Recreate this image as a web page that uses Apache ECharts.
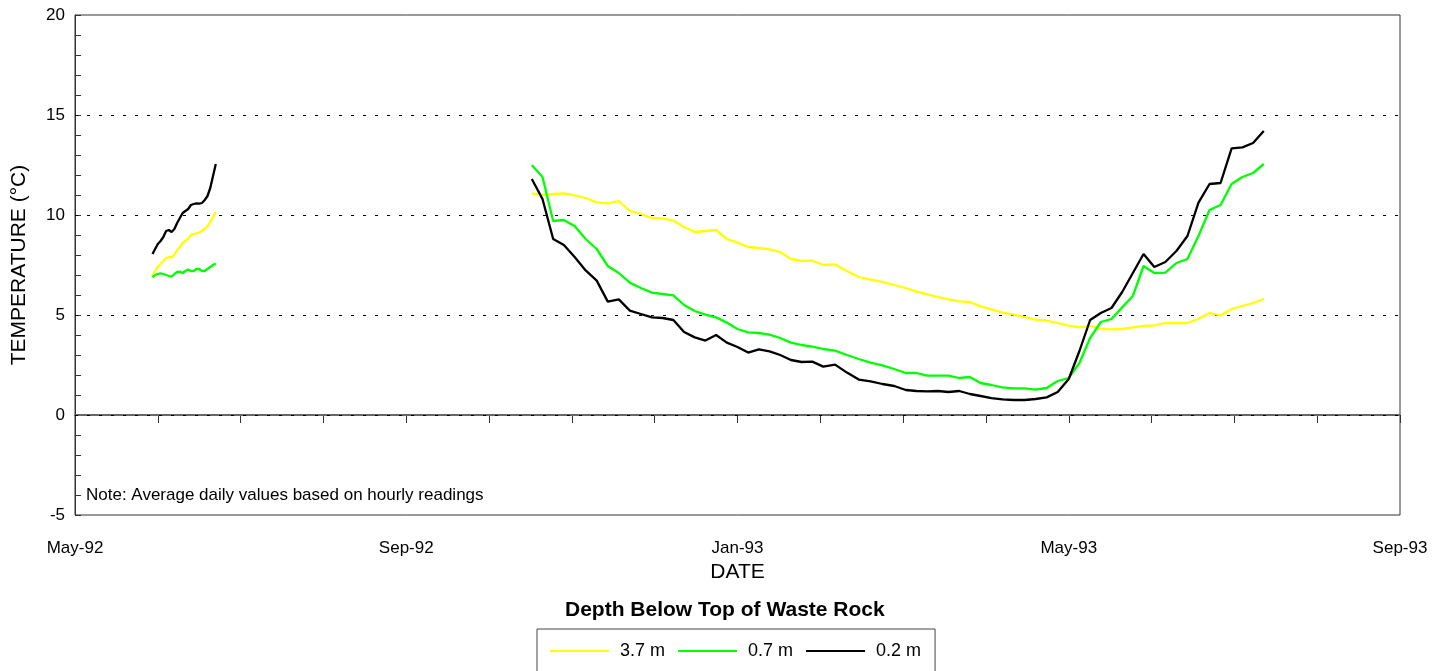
<!DOCTYPE html>
<html>
<head>
<meta charset="utf-8">
<script src="https://cdn.jsdelivr.net/npm/echarts@6/dist/echarts.min.js"></script>
<style>
html,body{margin:0;padding:0;background:#fff;}
#chart{width:1446px;height:671px;}
</style>
</head>
<body>
<div id="chart"></div>
<script>
// ---- data ----
const xTickLabels = ['May-92', 'Sep-92', 'Jan-93', 'May-93', 'Sep-93'];
const seriesNames = ['3.7 m', '0.7 m', '0.2 m'];
const gridLevels = [0, 5, 10, 15];
const zeroLevel = 0;

// Segment 1: daily values starting 1992-05-30
const seg1Start = '1992-05-30';
const seg1StepDays = 1;
const seg1_37 = [6.95, 7.2, 7.4, 7.55, 7.7, 7.85, 7.9, 7.88, 8.0, 8.25, 8.4, 8.6, 8.7, 8.82, 8.98, 9.05, 9.08, 9.12, 9.2, 9.3, 9.45, 9.62, 9.9, 10.15];
const seg1_07 = [6.88, 7.0, 7.05, 7.08, 7.05, 7.0, 6.95, 6.92, 7.05, 7.15, 7.17, 7.1, 7.2, 7.28, 7.2, 7.2, 7.3, 7.3, 7.2, 7.2, 7.3, 7.4, 7.5, 7.58];
const seg1_02 = [8.05, 8.3, 8.55, 8.7, 8.9, 9.2, 9.25, 9.15, 9.3, 9.6, 9.85, 10.1, 10.2, 10.3, 10.5, 10.55, 10.58, 10.57, 10.6, 10.75, 10.95, 11.35, 11.95, 12.55];

// Segment 2: values every 4 days starting 1992-10-17
const seg2Start = '1992-10-17';
const seg2StepDays = 4;
const seg2_37 = [11.08, 11.0, 11.05, 11.08, 10.98, 10.85, 10.63, 10.58, 10.7, 10.2, 10.05, 9.85, 9.83, 9.72, 9.4, 9.15, 9.2, 9.25, 8.8, 8.62,
  8.4, 8.35, 8.28, 8.15, 7.8, 7.7, 7.72, 7.5, 7.53, 7.2, 6.9, 6.77, 6.66, 6.5, 6.35, 6.17, 6.03, 5.9, 5.78, 5.68,
  5.65, 5.43, 5.28, 5.12, 5.02, 4.9, 4.77, 4.72, 4.6, 4.47, 4.38, 4.45, 4.32, 4.28, 4.3, 4.38, 4.45, 4.48, 4.6, 4.6,
  4.6, 4.8, 5.1, 4.98, 5.3, 5.45, 5.6, 5.8];
const seg2_07 = [12.5, 11.9, 9.7, 9.75, 9.45, 8.8, 8.3, 7.45, 7.1, 6.62, 6.35, 6.12, 6.05, 5.98, 5.5, 5.2, 5.02, 4.88, 4.62, 4.3,
  4.13, 4.1, 4.02, 3.85, 3.62, 3.5, 3.42, 3.3, 3.22, 3.0, 2.8, 2.62, 2.48, 2.3, 2.1, 2.1, 1.97, 1.97, 1.97, 1.85,
  1.9, 1.6, 1.5, 1.38, 1.33, 1.33, 1.27, 1.35, 1.7, 1.85, 2.6, 3.85, 4.65, 4.8, 5.38, 5.95, 7.45, 7.1, 7.12, 7.6,
  7.8, 8.95, 10.25, 10.5, 11.55, 11.9, 12.1, 12.55];
const seg2_02 = [11.8, 10.8, 8.8, 8.5, 7.9, 7.23, 6.72, 5.67, 5.78, 5.22, 5.05, 4.88, 4.85, 4.75, 4.15, 3.88, 3.72, 4.0, 3.62, 3.4,
  3.12, 3.28, 3.18, 3.0, 2.75, 2.65, 2.67, 2.42, 2.52, 2.12, 1.77, 1.68, 1.55, 1.45, 1.25, 1.2, 1.18, 1.2, 1.15, 1.2,
  1.05, 0.95, 0.84, 0.78, 0.75, 0.75, 0.8, 0.88, 1.15, 1.8, 3.2, 4.75, 5.1, 5.35, 6.15, 7.1, 8.05, 7.4, 7.65, 8.2,
  8.95, 10.62, 11.55, 11.6, 13.33, 13.38, 13.6, 14.2];

const noteText = 'Note: Average daily values based on hourly readings';
const legendTitle = 'Depth Below Top of Waste Rock';

// ---- helpers ----
// x axis unit: months since 1 May 1992 (months equally spaced)
function toMonths(dt) {
  const y = dt.getUTCFullYear(), m = dt.getUTCMonth(), d = dt.getUTCDate();
  const dim = new Date(Date.UTC(y, m + 1, 0)).getUTCDate();
  return (y - 1992) * 12 + (m - 4) + (d - 1) / dim;
}
function segData(start, step, vals) {
  const s = new Date(start + 'T00:00:00Z');
  return vals.map((v, i) => {
    const dt = new Date(s.getTime() + i * step * 86400000);
    return [toMonths(dt), v];
  });
}
function build(v1, v2) {
  return segData(seg1Start, seg1StepDays, v1).concat([[3, null]], segData(seg2Start, seg2StepDays, v2));
}

const FONT = 'Liberation Sans, Arial, sans-serif';
const colors = ['#ffff00', '#00ff00', '#000000'];

const chart = echarts.init(document.getElementById('chart'), null, { renderer: 'canvas' });
const option = {
  animation: false,
  backgroundColor: '#ffffff',
  textStyle: { fontFamily: FONT },
  grid: { left: 75, right: 46, top: 15, bottom: 156, show: true, borderColor: '#333', borderWidth: 1,
    backgroundColor: 'transparent', containLabel: false, outerBoundsMode: 'none' },
  xAxis: {
    type: 'value', min: 0, max: 16, interval: 1,
    name: 'DATE', nameLocation: 'middle', nameGap: 37,
    nameTextStyle: { fontSize: 21, color: '#000', fontFamily: FONT },
    axisLine: { lineStyle: { color: '#333', width: 1 } },
    axisTick: { show: true, inside: false, length: 8, lineStyle: { color: '#333' } },
    axisLabel: {
      margin: 25, fontSize: 17, color: '#000', fontFamily: FONT,
      formatter: v => (Math.round(v) % 4 === 0 ? xTickLabels[Math.round(v) / 4] : '')
    },
    splitLine: { show: false }
  },
  yAxis: {
    type: 'value', min: -5, max: 20, interval: 5,
    name: 'TEMPERATURE (°C)', nameLocation: 'middle', nameGap: 45,
    nameTextStyle: { fontSize: 21, color: '#000', fontFamily: FONT },
    axisLine: { show: true, lineStyle: { color: '#333', width: 1 } },
    axisTick: { show: true, inside: true, length: 6, lineStyle: { color: '#333' } },
    minorTick: { show: true, splitNumber: 5, length: 6, lineStyle: { color: '#333' } },
    axisLabel: { margin: 10, fontSize: 17, color: '#000', fontFamily: FONT },
    splitLine: { show: false }
  },
  legend: {
    data: seriesNames,
    left: 537, top: 629,
    orient: 'horizontal',
    icon: 'rect', itemWidth: 59, itemHeight: 2, itemGap: 13,
    padding: [13, 14, 24, 13],
    borderColor: '#444', borderWidth: 1,
    textStyle: { fontSize: 18, color: '#000', fontFamily: FONT, padding: [0, 0, 0, 6] }
  },
  graphic: [
    { type: 'text', left: 86, top: 487, style: { text: noteText, font: '17px ' + FONT, fill: '#000' } },
    { type: 'text', left: 565, top: 600, style: { text: legendTitle, font: 'bold 21px ' + FONT, fill: '#000' } }
  ],
  series: [
    { name: seriesNames[0], type: 'line', data: build(seg1_37, seg2_37), showSymbol: false, symbol: 'none', connectNulls: false,
      lineStyle: { color: colors[0], width: 2.3 }, itemStyle: { color: colors[0] }, z: 3,
      markLine: { silent: true, symbol: 'none', label: { show: false }, animation: false,
        data: gridLevels.map(v => ({ yAxis: v })),
        lineStyle: { color: '#000', type: [3, 9], width: 1 }, z: 2 } },
    { name: seriesNames[1], type: 'line', data: build(seg1_07, seg2_07), showSymbol: false, symbol: 'none', connectNulls: false,
      lineStyle: { color: colors[1], width: 2.3 }, itemStyle: { color: colors[1] }, z: 4 },
    { name: seriesNames[2], type: 'line', data: build(seg1_02, seg2_02), showSymbol: false, symbol: 'none', connectNulls: false,
      lineStyle: { color: colors[2], width: 2.3 }, itemStyle: { color: colors[2] }, z: 5,
      markLine: { silent: true, symbol: 'none', label: { show: false }, animation: false,
        data: [{ yAxis: zeroLevel }],
        lineStyle: { color: '#666', type: 'solid', width: 2 }, z: 1 } }
  ]
};
chart.setOption(option);
</script>
</body>
</html>
